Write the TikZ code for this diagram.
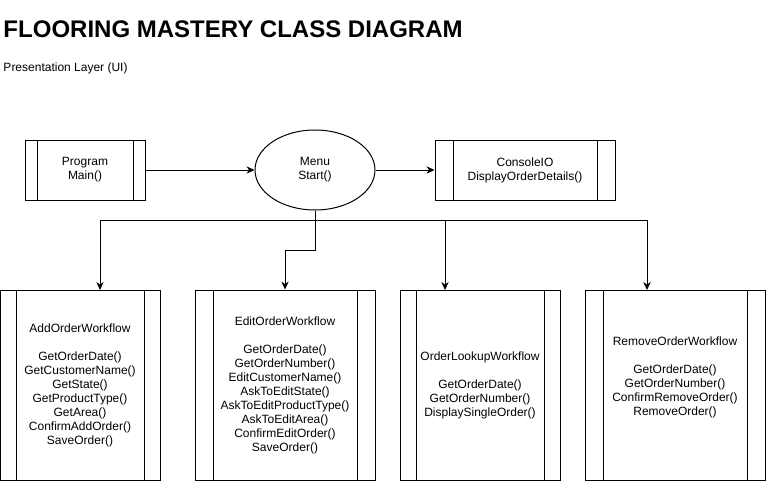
\documentclass[tikz,border=0pt]{standalone}
\usepackage{fontspec}
\setmainfont{Liberation Sans}
\usetikzlibrary{calc,shapes.geometric,arrows.meta}
\tikzset{>={Stealth[length=6pt,width=5.5pt]}}
\newcommand\boxfont{\fontsize{9pt}{10.5pt}\selectfont}
\tikzset{
  procbox/.style={draw, align=center, inner sep=0pt, font=\boxfont,
    path picture={
      \draw ($(path picture bounding box.north west)!0.1!(path picture bounding box.north east)$)
         -- ($(path picture bounding box.south west)!0.1!(path picture bounding box.south east)$);
      \draw ($(path picture bounding box.north east)!0.1!(path picture bounding box.north west)$)
         -- ($(path picture bounding box.south east)!0.1!(path picture bounding box.south west)$);
    }},
  menuoval/.style={ellipse, draw, align=center, inner sep=0pt, font=\boxfont}
}

\begin{document}
\begin{tikzpicture}[x=0.75pt,y=-0.75pt,line width=0.75pt]
  \useasboundingbox (0,0) rectangle (766,481);
  % headings
  \node[anchor=base west, inner sep=0pt, font=\fontsize{18pt}{21pt}\selectfont\bfseries] (title) at (3,38) {FLOORING MASTERY CLASS DIAGRAM};
  \node[anchor=base west, inner sep=0pt, font=\boxfont] (layer) at (3,72) {Presentation Layer (UI)};

  % top row
  \node[procbox, minimum width=90pt, minimum height=45pt] (prog) at (85,170) {Program\\Main()};
  \node[menuoval, minimum width=90pt, minimum height=60pt] (menu) at (315,170) {Menu\\Start()};
  \node[procbox, minimum width=135pt, minimum height=45pt] (console) at (525,170) {ConsoleIO\\DisplayOrderDetails()};

  % workflows
  \node[procbox, minimum width=120pt, minimum height=142.5pt] (add) at (80,385)
    {AddOrderWorkflow\\[10.5pt]GetOrderDate()\\GetCustomerName()\\GetState()\\GetProductType()\\GetArea()\\ConfirmAddOrder()\\SaveOrder()};
  \node[procbox, minimum width=135pt, minimum height=142.5pt] (edit) at (285,385)
    {EditOrderWorkflow\\[10.5pt]GetOrderDate()\\GetOrderNumber()\\EditCustomerName()\\AskToEditState()\\AskToEditProductType()\\AskToEditArea()\\ConfirmEditOrder()\\SaveOrder()};
  \node[procbox, minimum width=120pt, minimum height=142.5pt] (lookup) at (480,385)
    {OrderLookupWorkflow\\[10.5pt]GetOrderDate()\\GetOrderNumber()\\DisplaySingleOrder()};
  \node[procbox, minimum width=135pt, minimum height=142.5pt] (remove) at (675,385)
    {RemoveOrderWorkflow\\[10.5pt]GetOrderDate()\\GetOrderNumber()\\ConfirmRemoveOrder()\\RemoveOrder()\\\strut};

  \coordinate (hub) at (315,220);
  \coordinate (bend) at (315,250);
  \coordinate (addin) at (100,290);
  \coordinate (lookin) at (445,290);
  \coordinate (removein) at (647,290);

  \draw[->] (prog) -- (menu);
  \draw[->] (menu) -- (console);
  \draw[->] (menu.south) -- (hub) -| (addin);
  \draw[->] (menu.south) -- (bend) -| (edit.north);
  \draw[->] (hub) -| (lookin);
  \draw[->] (hub) -| (removein);
\end{tikzpicture}
\end{document}
